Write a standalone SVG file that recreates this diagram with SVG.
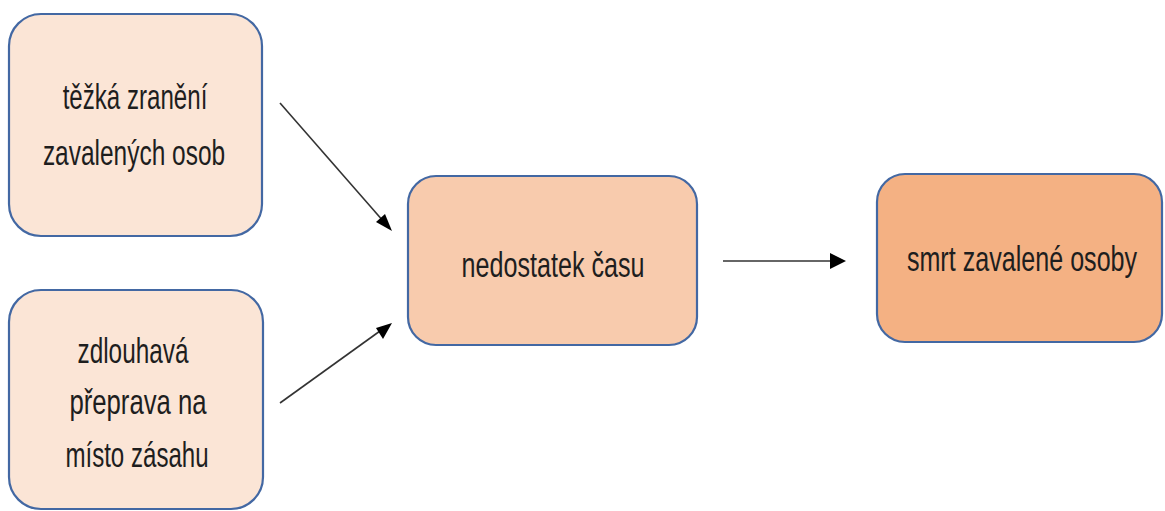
<svg xmlns="http://www.w3.org/2000/svg" width="1165" height="511" viewBox="0 0 1165 511">
<style>
.box{stroke:#4368A3;stroke-width:2.2}
.t{font-family:"Liberation Sans",Arial,sans-serif;font-size:35px;fill:#1e1e1e;text-anchor:middle}
.c{stroke:#333;stroke-width:1.6;fill:none}
.h{fill:#000}
</style>
<rect width="1165" height="511" fill="#fff"/>
<g id="connectors">
<line class="c" x1="280" y1="103" x2="384" y2="222"/>
<path class="h" d="M392,231 L376,222 L385,214 Z"/>
<line class="c" x1="280" y1="403" x2="380" y2="331"/>
<path class="h" d="M392,323 L383,339 L376,328 Z"/>
<line class="c" x1="723" y1="261" x2="832" y2="261"/>
<path class="h" d="M846,261 L830,253 L830,269 Z"/>
</g>
<g id="n1">
<rect class="box" x="9" y="14" width="253" height="222" rx="32" fill="#FBE5D6"/>
<text class="t" transform="translate(135,109) scale(0.75,1)" textLength="193" lengthAdjust="spacingAndGlyphs">těžká zranění</text>
<text class="t" transform="translate(134,165) scale(0.75,1)" textLength="243" lengthAdjust="spacingAndGlyphs">zavalených osob</text>
</g>
<g id="n2">
<rect class="box" x="9" y="290" width="254" height="219" rx="32" fill="#FBE5D6"/>
<text class="t" transform="translate(133,363) scale(0.75,1)" textLength="148" lengthAdjust="spacingAndGlyphs">zdlouhavá</text>
<text class="t" transform="translate(138,414) scale(0.75,1)" textLength="183" lengthAdjust="spacingAndGlyphs">přeprava na</text>
<text class="t" transform="translate(137,467) scale(0.75,1)" textLength="191" lengthAdjust="spacingAndGlyphs">místo zásahu</text>
</g>
<g id="n3">
<rect class="box" x="408" y="176" width="289" height="169" rx="28" fill="#F8CBAD"/>
<text class="t" transform="translate(553,277) scale(0.75,1)" textLength="244" lengthAdjust="spacingAndGlyphs">nedostatek času</text>
</g>
<g id="n4">
<rect class="box" x="877" y="174" width="285" height="168" rx="28" fill="#F4B183"/>
<text class="t" transform="translate(1022,271) scale(0.75,1)" textLength="307" lengthAdjust="spacingAndGlyphs">smrt zavalené osoby</text>
</g>
</svg>
